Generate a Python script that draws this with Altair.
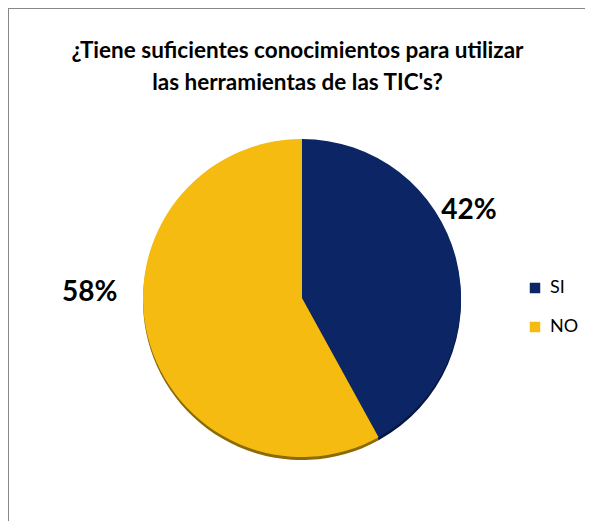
import altair as alt
import pandas as pd

categories = ["SI", "NO"]
values = [42, 58]
labels = ["42%", "58%"]
colors = ["#0B2565", "#F5BB10"]
edge_colors = ["#061640", "#8C6A05"]

df = pd.DataFrame({"cat": categories, "val": values, "lab": labels, "ord": [0, 1]})

CX, CY, R = 294, 290, 159
W, H = 577, 513

base = alt.Chart(df)
theta = alt.Theta("val:Q", stack=True)
order = alt.Order("ord:Q")

shadow = base.mark_arc(outerRadius=R).encode(
    theta=theta, order=order,
    fill=alt.condition(alt.datum.cat == "SI", alt.value(edge_colors[0]), alt.value(edge_colors[1])),
    x=alt.value(CX), y=alt.value(CY + 3),
)

pie = base.mark_arc(outerRadius=R).encode(
    theta=theta, order=order,
    color=alt.Color("cat:N", scale=alt.Scale(domain=categories, range=colors),
                    sort=categories,
                    legend=alt.Legend(title=None, orient="none", legendX=518, legendY=271,
                                      symbolType="square", symbolSize=110, symbolStrokeWidth=0,
                                      labelFontSize=18, labelFont="Lato", labelColor="#000000",
                                      rowPadding=21, labelOffset=6)),
    x=alt.value(CX), y=alt.value(CY),
)

lab_si = base.mark_text(fontSize=28, fontWeight="bold", font="Lato", color="#000000",
                        radius=190, dx=-17, dy=-40).encode(
    theta=theta, order=order, text=alt.Text("lab:N"),
    opacity=alt.condition(alt.datum.cat == "SI", alt.value(1), alt.value(0)),
    x=alt.value(CX), y=alt.value(CY))

lab_no = base.mark_text(fontSize=28, fontWeight="bold", font="Lato", color="#000000",
                        radius=212, dx=-7, dy=-58).encode(
    theta=theta, order=order, text=alt.Text("lab:N"),
    opacity=alt.condition(alt.datum.cat == "NO", alt.value(1), alt.value(0)),
    x=alt.value(CX), y=alt.value(CY))

border_left = alt.Chart(df).mark_rule(color="#888888", strokeWidth=2).encode(
    x=alt.value(0), y=alt.value(0), y2=alt.value(H))
border_top = alt.Chart(df).mark_rule(color="#888888", strokeWidth=2).encode(
    y=alt.value(0), x=alt.value(0), x2=alt.value(W))

chart = alt.layer(
    border_left, border_top, shadow, pie, lab_si, lab_no,
).properties(
    width=W, height=H,
    title=alt.Title(["¿Tiene suficientes conocimientos para utilizar", "las herramientas de las TIC's?"],
                    font="Lato", fontSize=22.5, fontWeight="bold", color="#000000",
                    lineHeight=32, anchor="middle", offset=-87, dx=1),
    autosize=alt.AutoSizeParams(type="none"),
    padding=0,
).configure_view(stroke=None)

chart.save("out.html", embed_options={"renderer": "svg", "actions": False})
